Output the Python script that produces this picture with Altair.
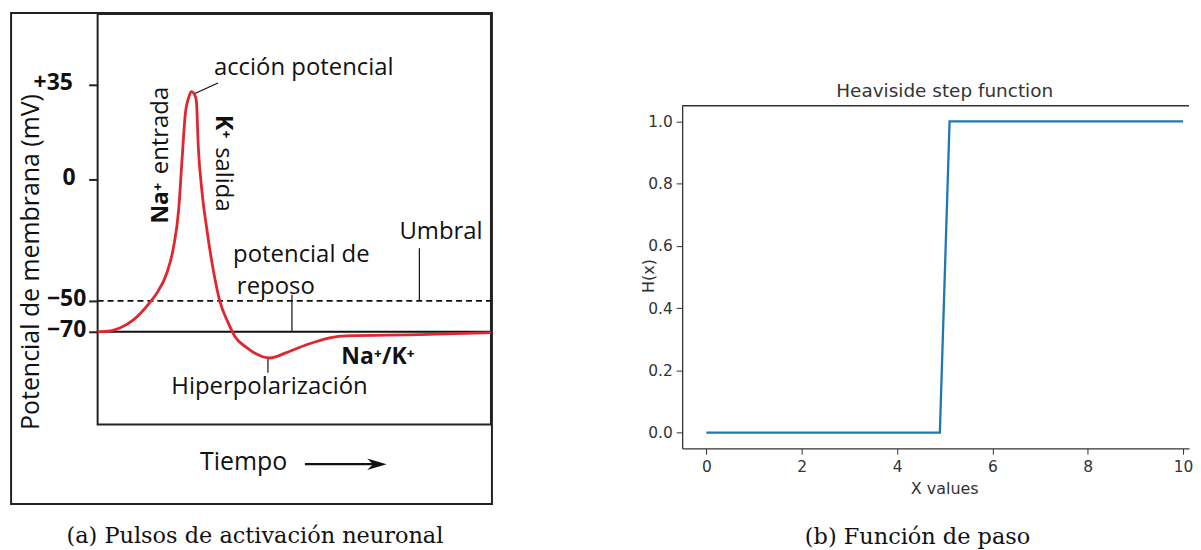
import altair as alt
import pandas as pd

# ---------------- Panel (a): action potential (illustration) ----------------
ap_time = [0, 2.0, 3.3, 5.8, 9.1, 13.4, 15.1, 17.6, 19.3, 20.6, 21.4, 22.3, 23.2, 23.8,
           24.4, 25.1, 25.6, 26.5, 27.8, 29.4, 31.1, 33.2, 34.9, 37.9, 43.8, 48.0,
           53.1, 59.0, 63.2, 81.8, 100]
ap_mv = [-70, -69.8, -69.4, -67.4, -62.3, -50.6, -46.7, -38.5, -27.9, -12.5, 5.9, 24.3,
         30.5, 32.5, 32.0, 29.1, 11.9, -4.5, -20.9, -37.3, -50.5, -64.2, -73.0, -80.3,
         -87.0, -83.5, -78.4, -73.9, -72.6, -71.9, -70.6]
mv_ticks = [35, 0, -50, -70]
mv_tick_labels = ["+35", "0", "−50", "−70"]
mv_tick_label_t = [-6.3, -5.6, -2.9, -2.9]
mv_tick_label_mv = [35.5, 0.5, -49.2, -68.6]
rest_mv = -70
threshold_mv = -50

label_text = ["acción potencial", "entrada", "salida", "Umbral", "potencial de",
              "reposo", "Hiperpolarización", "Tiempo", "Potencial de membrana (mV)"]
label_t = [52.4, 16.2, 31.8, 87.3, 51.8, 45.3, 43.7, 37.1, -17.0]
label_mv = [41.3, 18.1, 0.0, -21.7, -31.1, -44.3, -106.1, -154.5, -34.0]
label_angle = [0, 270, 90, 0, 0, 0, 0, 0, 270]
label_size = [24, 24, 24, 24, 24, 24, 24, 25, 25]

bold_text = ["Na⁺", "K⁺", "Na⁺/K⁺"]
bold_t = [16.2, 31.8, 71.3]
bold_mv = [-9.8, 19.5, -86.1]
bold_angle = [270, 90, 0]

leader_t = [24.6, 81.8, 49.4, 43.3]
leader_t2 = [30.6, 81.8, 49.4, 43.3]
leader_mv = [31.7, -28.3, -47.5, -86.8]
leader_mv2 = [35.7, -50.0, -70.0, -96.5]

frame_t, frame_t2, frame_mv, frame_mv2 = -22.0, 100.25, 61.8, -181.6
arrow_t, arrow_t2, arrow_mv = 52.7, 71.0, -155.8

caption_a_text = "(a) Pulsos de activación neuronal"
caption_a_t, caption_a_mv = 40.0, -202.3

# ---------------- Panel (b): Heaviside step ----------------
step_x = [0, 4.898, 5.102, 10]
step_y = [0, 0, 1, 1]
b_text = ["Heaviside step function", "X values"]
b_x = [5.0, 5.0]
b_y = [1.098, -0.181]
b_size = [18.5, 16]
caption_b_text = "(b) Función de paso"
caption_b_x, caption_b_y = 4.43, -0.335

SANS = "Open Sans"
SERIF = "DejaVu Serif"

ys = alt.Scale(domain=[-130, -70, -50, 0, 35, 61.4],
               range=[412, 319, 288, 166, 71, 0], nice=False, zero=False)
xs = alt.Scale(domain=[0, 100], nice=False, zero=False)
yaxis = alt.Axis(values=mv_ticks, labels=False, tickSize=9, tickWidth=2,
                 tickColor="#222", domain=False, grid=False, title=None)


def X(f="t"):
    return alt.X(f"{f}:Q", scale=xs, axis=None)


def Y(f="mv"):
    return alt.Y(f"{f}:Q", scale=ys, axis=yaxis)


frame = alt.Chart(pd.DataFrame({"t": [frame_t], "t2": [frame_t2], "mv": [frame_mv],
                                "mv2": [frame_mv2]})).mark_rect(
    fill=None, stroke="#222", strokeWidth=2).encode(
    x=X(), x2="t2:Q", y=Y(), y2="mv2:Q")

rest = alt.Chart(pd.DataFrame({"t": [0], "t2": [100], "mv": [rest_mv]})).mark_rule(
    color="#111", strokeWidth=2).encode(x=X(), x2="t2:Q", y=Y())

thresh = alt.Chart(pd.DataFrame({"t": [0], "t2": [100], "mv": [threshold_mv]})).mark_rule(
    color="#111", strokeWidth=1.6, strokeDash=[6, 4]).encode(x=X(), x2="t2:Q", y=Y())

leaders = alt.Chart(pd.DataFrame({"t": leader_t, "t2": leader_t2, "mv": leader_mv,
                                  "mv2": leader_mv2})).mark_rule(
    color="#111", strokeWidth=1.2).encode(x=X(), x2="t2:Q", y=Y(), y2="mv2:Q")

curve = alt.Chart(pd.DataFrame({"t": ap_time, "mv": ap_mv})).mark_line(
    color="#e0262e", strokeWidth=2.8, interpolate="monotone").encode(x=X(), y=Y())

tick_labels = alt.Chart(pd.DataFrame({"label": mv_tick_labels, "t": mv_tick_label_t,
                                      "mv": mv_tick_label_mv})).mark_text(
    font=SANS, fontWeight="bold", fontSize=23, color="#111", baseline="middle",
    align="right").encode(x=X(), y=Y(), text="label:N")

texts = alt.Chart(pd.DataFrame({"label": label_text, "t": label_t, "mv": label_mv,
                                "angle": label_angle, "font": label_size})).mark_text(
    font=SANS, color="#111", baseline="middle", align="center").encode(
    x=X(), y=Y(), text="label:N", angle=alt.Angle("angle:Q", scale=None),
    size=alt.Size("font:Q", scale=None))

caption_a = alt.Chart(pd.DataFrame({"label": [caption_a_text], "t": [caption_a_t],
                                    "mv": [caption_a_mv]})).mark_text(
    font=SERIF, fontSize=22.5, color="#111", baseline="middle", align="center").encode(
    x=X(), y=Y(), text="label:N")

bold = alt.Chart(pd.DataFrame({"label": bold_text, "t": bold_t, "mv": bold_mv,
                               "angle": bold_angle})).mark_text(
    font=SANS, fontWeight="bold", fontSize=23, color="#111", baseline="middle",
    align="center").encode(x=X(), y=Y(), text="label:N",
                           angle=alt.Angle("angle:Q", scale=None))

arrow_line = alt.Chart(pd.DataFrame({"t": [arrow_t], "t2": [arrow_t2], "mv": [arrow_mv]})).mark_rule(
    color="#111", strokeWidth=2.2).encode(x=X(), x2="t2:Q", y=Y())
arrow_head = alt.Chart(pd.DataFrame({"t": [arrow_t2], "mv": [arrow_mv]})).mark_point(
    shape="M-1,-0.6L1,0L-1,0.6L-0.4,0Z", size=380, filled=True, color="#111",
    opacity=1).encode(x=X(), y=Y())

left = alt.layer(frame, rest, thresh, leaders, curve, tick_labels, texts, bold,
                 arrow_line, arrow_head, caption_a).properties(
    width=395, height=412, view=alt.ViewBackground(stroke="#222", strokeWidth=2))

# ---------------- right panel ----------------
bxs = alt.Scale(domain=[-0.508, 10.125], nice=False, zero=False)
bys = alt.Scale(domain=[-0.05, 1.05], nice=False, zero=False)
bxaxis = alt.Axis(values=[0, 2, 4, 6, 8, 10], title=None, grid=False,
                  labelFont="DejaVu Sans", labelFontSize=15.5, labelColor="#333",
                  tickSize=6, tickColor="#333", domainColor="#333", domainWidth=1.3,
                  labelPadding=5)
byaxis = alt.Axis(values=[0, 0.2, 0.4, 0.6, 0.8, 1.0], format=".1f", title=None,
                  grid=False, labelFont="DejaVu Sans", labelFontSize=15.5,
                  labelColor="#333", tickSize=6, tickColor="#333",
                  domainColor="#333", domainWidth=1.3, labelPadding=4)


def BX(f="x"):
    return alt.X(f"{f}:Q", scale=bxs, axis=bxaxis)


def BY(f="y"):
    return alt.Y(f"{f}:Q", scale=bys, axis=byaxis)


step = alt.Chart(pd.DataFrame({"x": step_x, "y": step_y})).mark_line(
    color="#1f77b4", strokeWidth=2.3).encode(x=BX(), y=BY())
top_spine = alt.Chart(pd.DataFrame({"x": [-0.508], "x2": [10.125], "y": [1.05]})).mark_rule(
    color="#333", strokeWidth=1.3).encode(x=BX(), x2="x2:Q", y=BY())
btitle = alt.Chart(pd.DataFrame({"label": b_text, "x": b_x, "y": b_y,
                                 "fs": b_size})).mark_text(
    font="DejaVu Sans", color="#333", baseline="middle").encode(
    x=BX(), y=BY(), text="label:N", size=alt.Size("fs:Q", scale=None))
hx = alt.Chart(pd.DataFrame({"label": ["H(x)"], "x": [-1.21], "y": [0.503]})).mark_text(
    font="DejaVu Sans", fontSize=16, color="#333", angle=270, baseline="middle").encode(
    x=BX(), y=BY(), text="label:N")
caption_b = alt.Chart(pd.DataFrame({"label": [caption_b_text], "x": [caption_b_x],
                                    "y": [caption_b_y]})).mark_text(
    font=SERIF, fontSize=22.5, color="#111", baseline="middle").encode(
    x=BX(), y=BY(), text="label:N")

right = alt.layer(step, top_spine, btitle, hx, caption_b).properties(
    width=509, height=344, view=alt.ViewBackground(stroke=None))

spacer = alt.Chart(pd.DataFrame({"v": [0]})).mark_point(opacity=0).encode(
    x=alt.X("v:Q", axis=None), y=alt.Y("v:Q", axis=None)).properties(
    width=509, height=92, view=alt.ViewBackground(stroke=None))

right_col = alt.vconcat(spacer, right, spacing=0, bounds="flush")

chart = alt.hconcat(left, right_col, spacing=192, bounds="flush").properties(
    padding={"left": 1, "top": 1, "right": 0, "bottom": 0}).configure(background="white")

chart.save("out.html", embed_options={"renderer": "svg", "actions": False})
